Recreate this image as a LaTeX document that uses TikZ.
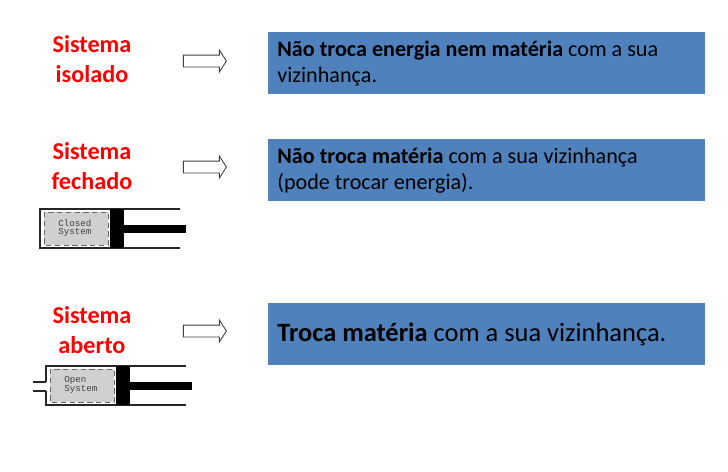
\documentclass[tikz,border=0pt]{standalone}
\usepackage{fontspec}
\setmainfont{Carlito}
\setmonofont{Liberation Mono}
\usetikzlibrary{shapes.arrows}
\definecolor{cblue}{HTML}{4F81BD}
\definecolor{cred}{HTML}{FF0000}
\definecolor{cgrey}{HTML}{D0D0D0}
\tikzset{
  every picture/.style={x=0.02cm, y=-0.02cm},
  title/.style={font=\bfseries\fontsize{13.8}{17}\selectfont, text=cred, align=center},
  box/.style={fill=cblue, anchor=north west, minimum height=1.24cm, inner xsep=0.18cm, inner ysep=0pt, text width=8.38cm, align=flush left, text=black, font=\fontsize{12.6}{14.7}\selectfont},
  implies/.style={single arrow, draw=black!75, fill=white, line width=0.5pt, inner sep=0.11cm, minimum height=0.86cm, single arrow head extend=0.1cm, single arrow head indent=0cm, single arrow tip angle=115},
  chamber/.style={fill=cgrey, draw=black!60, densely dashed, line width=0.4pt},
  wall/.style={draw=black!85, line width=0.8pt},
  tiny label/.style={font=\ttfamily\fontsize{5.2}{4.5}\selectfont, text=black!75, align=left, anchor=west, inner sep=0pt},
}
\begin{document}
\begin{tikzpicture}
  \useasboundingbox (0,0) rectangle (728,471);
  % linhas
  \node[title] (t1) at (92, 59) {Sistema\\isolado};
  \node[title] (t2) at (92, 166) {Sistema\\fechado};
  \node[title] (t3) at (92, 330) {Sistema\\aberto};
  \node[implies] (a1) at (203, 61) {};
  \node[implies] (a2) at (203, 167) {};
  \node[implies] (a3) at (203, 331) {};
  \node[box] (b1) at (268, 32) {\textbf{Não troca energia nem matéria} com a sua\\vizinhança.};
  \node[box] (b2) at (268, 139) {\textbf{Não troca matéria} com a sua vizinhança\\(pode trocar energia).};
  \node[box, font=\fontsize{15.05}{18}\selectfont] (b3) at (268, 303) {\textbf{Troca matéria} com a sua vizinhança.};
  % cilindros
  \foreach \x/\y/\s/\n in {0/0/Closed/c, 6/157/Open/o} {
    \begin{scope}[shift={(\x,\y)}]
      \draw[wall] (180, 209) -- (40, 209) -- (40, 248) -- (180, 248);
      \draw[chamber] (44, 212) rectangle (108, 245);
      \fill[black] (110, 209) rectangle (124, 248);
      \fill[black] (124, 225) rectangle (186, 233);
      \node[tiny label] (\n) at (58, 228) {\s\\System};
    \end{scope}
  }
  % entrada do sistema aberto
  \fill[white] (44, 382) rectangle (48, 391);
  \draw[wall] (33, 382) -- (46, 382) (33, 391) -- (46, 391);
\end{tikzpicture}
\end{document}
